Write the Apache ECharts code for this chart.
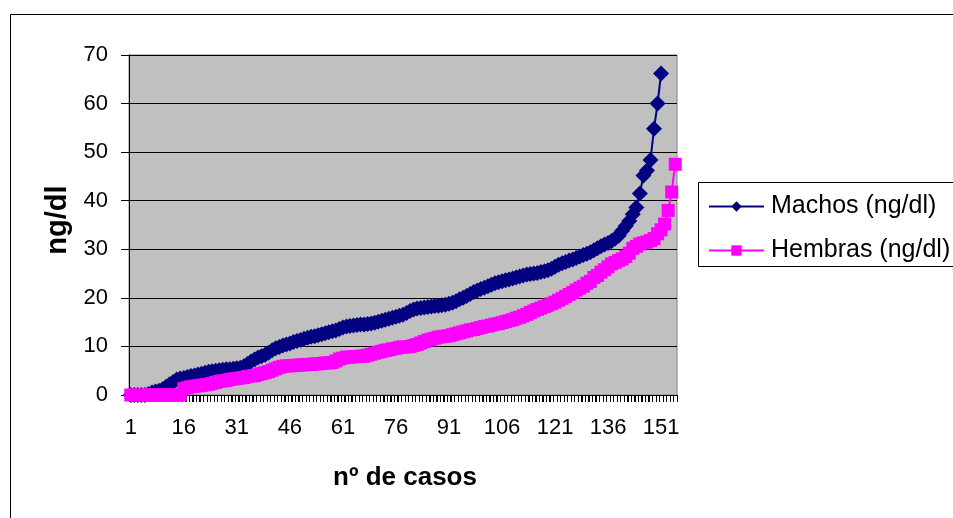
<!DOCTYPE html>
<html>
<head>
<meta charset="utf-8">
<script src="https://cdn.jsdelivr.net/npm/echarts@6/dist/echarts.min.js"></script>
<style>
html,body{margin:0;padding:0;background:#fff;}
#chart{width:953px;height:518px;}
</style>
</head>
<body>
<div id="chart"></div>
<script>
const categories = [
 '1','2','3','4','5','6','7','8','9','10','11','12','13','14','15','16','17','18','19','20',
 '21','22','23','24','25','26','27','28','29','30','31','32','33','34','35','36','37','38','39','40',
 '41','42','43','44','45','46','47','48','49','50','51','52','53','54','55','56','57','58','59','60',
 '61','62','63','64','65','66','67','68','69','70','71','72','73','74','75','76','77','78','79','80',
 '81','82','83','84','85','86','87','88','89','90','91','92','93','94','95','96','97','98','99','100',
 '101','102','103','104','105','106','107','108','109','110','111','112','113','114','115','116','117','118','119','120',
 '121','122','123','124','125','126','127','128','129','130','131','132','133','134','135','136','137','138','139','140',
 '141','142','143','144','145','146','147','148','149','150','151','152','153','154','155'
];

const machos = [
 0,0,0,0,0, 0.2,0.5,0.7,0.9,1.2, 1.7,2.2,2.7,3.2,3.4,
 3.5,3.7,3.9,4.0,4.2, 4.4,4.6,4.8,4.9,5.0, 5.1,5.2,5.3,5.3,5.4,
 5.5,5.6,5.9,6.4,6.9, 7.3,7.7,8.0,8.3,8.7, 9.2,9.6,9.9,10.2,10.4,
 10.6,10.9,11.1,11.3,11.6, 11.8,12.0,12.1,12.3,12.5, 12.7,12.9,13.1,13.3,13.6,
 13.9,14.1,14.2,14.3,14.4, 14.5,14.5,14.6,14.7,14.9, 15.1,15.3,15.5,15.7,15.9,
 16.1,16.3,16.5,16.9,17.3, 17.6,17.8,17.9,18.0,18.1, 18.2,18.3,18.4,18.5,18.6,
 18.8,19.0,19.3,19.7,20.0, 20.4,20.8,21.2,21.5,21.8, 22.1,22.4,22.7,23.0,23.2,
 23.4,23.6,23.8,24.0,24.2, 24.4,24.6,24.8,24.9,25.0, 25.1,25.3,25.5,25.7,26.0,
 26.4,26.8,27.1,27.4,27.7, 27.9,28.2,28.5,28.8,29.1, 29.4,29.8,30.2,30.6,31.0,
 31.3,31.7,32.2,32.8,33.8, 34.8,35.8,37.2,38.6,41.5, 45.2,46.2,48.4,54.8,60.0,66.2
];

const hembras = [
 0,0,0,0,0, 0,0,0,0,0, 0,0,0,0,0,
 1.3,1.5,1.7,1.8,1.9, 2.0,2.1,2.2,2.4,2.6, 2.8,2.9,3.0,3.2,3.3,
 3.4,3.5,3.6,3.8,3.9, 4.0,4.2,4.4,4.6,4.8, 5.1,5.4,5.7,5.9,6.0,
 6.0,6.1,6.1,6.2,6.2, 6.3,6.3,6.4,6.4,6.5, 6.6,6.6,6.7,7.0,7.4,
 7.6,7.8,7.8,7.9,7.9, 8.0,8.0,8.2,8.4,8.6, 8.8,9.0,9.2,9.3,9.5,
 9.6,9.8,9.9,9.9,10.0, 10.2,10.4,10.7,11.0,11.3, 11.5,11.7,11.9,12.0,12.1,
 12.2,12.4,12.6,12.8,13.0, 13.2,13.4,13.5,13.7,13.9, 14.1,14.2,14.4,14.6,14.7,
 14.9,15.1,15.3,15.5,15.8, 16.0,16.3,16.6,17.0,17.3, 17.6,17.9,18.2,18.5,18.8,
 19.1,19.5,19.9,20.3,20.7, 21.1,21.6,22.0,22.4,23.0, 23.4,24.2,24.6,25.3,25.8,
 26.4,27.0,27.3,27.7,28.0, 28.5,29.2,30.2,30.6,31.1, 31.3,31.5,31.8,32.2,33.2,
 34.0,35.2,38.0,41.8,47.5
];

const seriesNames = ['Machos (ng/dl)', 'Hembras (ng/dl)'];
const yTicks = { min: 0, max: 70, interval: 10 };
const xTitle = 'nº de casos';
const yTitle = 'ng/dl';

const FONT = '"Liberation Sans", Arial, sans-serif';
const chart = echarts.init(document.getElementById('chart'), null, { renderer: 'canvas' });

const baseGraphics = [
  { type: 'rect', z: -1, shape: { x: 10.5, y: 14.5, width: 960, height: 520 },
    style: { fill: 'transparent', stroke: '#000', lineWidth: 1 } },
  { type: 'rect', shape: { x: 698.5, y: 182.5, width: 270, height: 84 },
    style: { fill: '#fff', stroke: '#000', lineWidth: 1 }, z: 1 },
  { type: 'text', x: 405, y: 478, z: 5,
    style: { text: xTitle, font: 'bold 26px ' + FONT, fill: '#000', textAlign: 'center', textVerticalAlign: 'middle' } },
  { type: 'text', x: 58, y: 220, rotation: Math.PI / 2, z: 5,
    style: { text: yTitle, font: 'bold 29px ' + FONT, fill: '#000', textAlign: 'center', textVerticalAlign: 'middle' } }
];

chart.setOption({
  animation: false,
  backgroundColor: '#ffffff',
  textStyle: { fontFamily: FONT },
  grid: {
    left: 129, right: 276, top: 55, bottom: 123,
    show: true, backgroundColor: '#C0C0C0', borderColor: '#808080', borderWidth: 1
  },
  graphic: baseGraphics,
  legend: {
    orient: 'vertical',
    left: 708, top: 194, padding: 0,
    itemWidth: 55, itemHeight: 13, itemGap: 19,
    z: 10,
    textStyle: { fontFamily: FONT, fontSize: 25, color: '#000', padding: [0, 0, 0, 2] },
    data: seriesNames
  },
  xAxis: {
    type: 'category',
    data: categories,
    boundaryGap: true,
    axisLine: { lineStyle: { color: '#000', width: 1 } },
    axisTick: { show: true, interval: 0, length: 7, lineStyle: { color: '#000', width: 1 } },
    axisLabel: { interval: 14, margin: 22, fontSize: 22, color: '#000', fontFamily: FONT },
    splitLine: { show: false }
  },
  yAxis: {
    type: 'value',
    min: yTicks.min, max: yTicks.max, interval: yTicks.interval,
    axisLine: { show: true, lineStyle: { color: '#000', width: 1 } },
    axisTick: { show: true, length: 8, lineStyle: { color: '#000' } },
    axisLabel: { margin: 21, fontSize: 22, color: '#000', fontFamily: FONT },
    splitLine: { show: true, lineStyle: { color: '#000', width: 1 } }
  },
  series: [
    {
      name: seriesNames[0], type: 'line', data: machos,
      symbol: 'diamond', symbolSize: 16, showAllSymbol: true,
      lineStyle: { color: '#000080', width: 2 },
      itemStyle: { color: '#000080' }, z: 3
    },
    {
      name: seriesNames[1], type: 'line', data: hembras,
      symbol: 'rect', symbolSize: 13, showAllSymbol: true,
      lineStyle: { color: '#FF00FF', width: 2 },
      itemStyle: { color: '#FF00FF' }, z: 4
    }
  ]
});

// Category-boundary tick marks placed via the library's own category scale
const tickLines = [];
const p0 = chart.convertToPixel({ xAxisIndex: 0, yAxisIndex: 0 }, [0, 0]);
const p1 = chart.convertToPixel({ xAxisIndex: 0, yAxisIndex: 0 }, [1, 0]);
const bw = p1[0] - p0[0];
for (let i = 0; i <= categories.length; i++) {
  const ci = Math.min(i, categories.length - 1);
  const c = chart.convertToPixel({ xAxisIndex: 0, yAxisIndex: 0 }, [ci, 0]);
  const x = Math.round(i < categories.length ? c[0] - bw / 2 : c[0] + bw / 2) + 0.5;
  tickLines.push({ type: 'line', z: 2, silent: true,
    shape: { x1: x, y1: c[1], x2: x, y2: c[1] + 7 },
    style: { stroke: '#000', lineWidth: 1 } });
}
chart.setOption({ graphic: baseGraphics.concat(tickLines) });
</script>
</body>
</html>
